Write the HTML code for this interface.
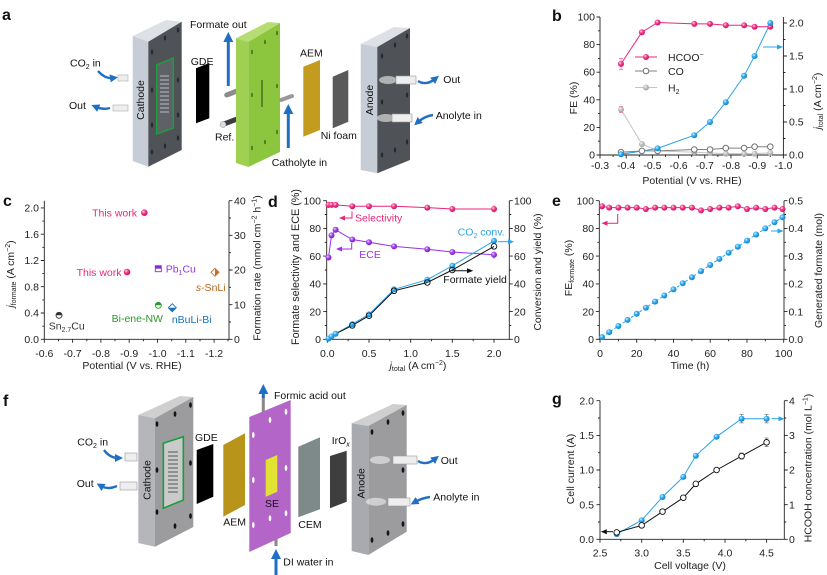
<!DOCTYPE html>
<html><head><meta charset="utf-8"><style>
html,body{margin:0;padding:0;background:#fff;}
svg{display:block;}
text{font-family:"Liberation Sans",Arial,sans-serif;}
</style></head><body>
<svg width="827" height="575" viewBox="0 0 827 575" xmlns="http://www.w3.org/2000/svg">
<defs>
<radialGradient id="bp" cx="0.38" cy="0.35" r="0.7"><stop offset="0" stop-color="#ffe0ee"/><stop offset="0.4" stop-color="#f0408a"/><stop offset="1" stop-color="#d0045f"/></radialGradient>
<radialGradient id="bb" cx="0.38" cy="0.35" r="0.7"><stop offset="0" stop-color="#e0f4ff"/><stop offset="0.4" stop-color="#35aef0"/><stop offset="1" stop-color="#0a7cc8"/></radialGradient>
<radialGradient id="bu" cx="0.38" cy="0.35" r="0.7"><stop offset="0" stop-color="#f0dcff"/><stop offset="0.4" stop-color="#a448f0"/><stop offset="1" stop-color="#7410d0"/></radialGradient>
<radialGradient id="bg" cx="0.38" cy="0.35" r="0.7"><stop offset="0" stop-color="#f6f6f6"/><stop offset="0.4" stop-color="#c4c4c4"/><stop offset="1" stop-color="#a0a0a0"/></radialGradient>
<marker id="ba" markerWidth="8" markerHeight="8" refX="3" refY="4" orient="auto" markerUnits="userSpaceOnUse"><path d="M0,0 L8,4 L0,8 Z" fill="#1f6fc5"/></marker>
<marker id="bv" markerWidth="10" markerHeight="10" refX="2" refY="5" orient="auto" markerUnits="userSpaceOnUse"><path d="M0,0 L10,5 L0,10 Z" fill="#1f6fc5"/></marker>
</defs>
<rect width="827" height="575" fill="#fff"/>

<!-- ================= PANEL A ================= -->
<text x="2" y="20" font-size="16" font-weight="bold" fill="#111">a</text>
<!-- cathode -->
<polygon points="132.7,36 166,20 181.7,21.7 148.3,41.7" fill="#dde1e6"/>
<polygon points="132.7,36 148.3,41.7 148.3,166.7 132.7,161" fill="#c6cdd7"/>
<polygon points="148.3,41.7 181.7,21.7 181.7,150 148.3,166.7" fill="#4f5257"/>
<polygon points="156.7,65 173.3,58 173.3,128 156.7,134" fill="#5e6166" stroke="#1f9c3f" stroke-width="1.5"/>
<g stroke="#b8bcc2" stroke-width="1"><path d="M160,76h9M160,80h9M160,84h9M160,88h9M160,92h9M160,96h9M160,100h9M160,104h9M160,108h9M160,112h9"/></g>
<g fill="#262a33"><ellipse cx="152" cy="52" rx="1.2" ry="2.5"/><ellipse cx="165" cy="38" rx="1.2" ry="2.5"/><ellipse cx="178" cy="30" rx="1.2" ry="2.5"/><ellipse cx="152" cy="90" rx="1.2" ry="2.5"/><ellipse cx="178" cy="80" rx="1.2" ry="2.5"/><ellipse cx="152" cy="125" rx="1.2" ry="2.5"/><ellipse cx="178" cy="115" rx="1.2" ry="2.5"/><ellipse cx="152" cy="152" rx="1.2" ry="2.5"/><ellipse cx="165" cy="146" rx="1.2" ry="2.5"/><ellipse cx="178" cy="138" rx="1.2" ry="2.5"/></g>
<text transform="translate(144,100) rotate(-90)" text-anchor="middle" font-size="10.5" fill="#111">Cathode</text>
<rect x="118" y="75" width="10" height="6" fill="#eee" stroke="#aaa" stroke-width="0.6"/>
<rect x="113" y="105" width="15" height="6" fill="#eee" stroke="#aaa" stroke-width="0.6"/>
<text x="70" y="66.5" font-size="10.5" fill="#111">CO<tspan font-size="7" dy="2.5">2</tspan><tspan dy="-2.5"> in</tspan></text>
<path d="M98,71 Q105,79 113,78" stroke="#1f6fc5" stroke-width="2.4" fill="none" marker-end="url(#ba)"/>
<text x="69" y="109" font-size="10.5" fill="#111">Out</text>
<path d="M110,108 Q103,110 96,107" stroke="#1f6fc5" stroke-width="2.4" fill="none" marker-end="url(#ba)"/>
<!-- GDE -->
<polygon points="196,68.3 209.3,63 209.3,118.3 196,123.3" fill="#000"/>
<text x="190.7" y="65" font-size="10.5" fill="#111">GDE</text>
<!-- green plate -->
<line x1="226.7" y1="95" x2="245" y2="88" stroke="#8a8d90" stroke-width="5" stroke-linecap="round"/>
<line x1="224" y1="124" x2="245" y2="116" stroke="#3c3d40" stroke-width="5" stroke-linecap="round"/>
<circle cx="223" cy="124.5" r="3" fill="#ddd" stroke="#888" stroke-width="0.5"/>
<polygon points="236,38.3 268,22 280,23 248.3,42" fill="#b6dc74"/>
<polygon points="236,38.3 248.3,42 248.3,167 236,163" fill="#9fd052"/>
<polygon points="248.3,42 280,23 280,152 248.3,167" fill="#8cc63f"/>
<g fill="#4c7a20"><ellipse cx="252" cy="52" rx="1" ry="2.3"/><ellipse cx="265" cy="42" rx="1" ry="2.3"/><ellipse cx="277" cy="33" rx="1" ry="2.3"/><ellipse cx="252" cy="95" rx="1" ry="2.3"/><ellipse cx="277" cy="86" rx="1" ry="2.3"/><ellipse cx="252" cy="148" rx="1" ry="2.3"/><ellipse cx="265" cy="142" rx="1" ry="2.3"/><ellipse cx="277" cy="132" rx="1" ry="2.3"/></g>
<line x1="262" y1="80" x2="262" y2="107" stroke="#3d6a1a" stroke-width="1.4"/>
<line x1="281" y1="100" x2="292" y2="96" stroke="#999" stroke-width="4" stroke-linecap="round"/>
<line x1="228.3" y1="86" x2="228.3" y2="40" stroke="#1f6fc5" stroke-width="3" marker-end="url(#bv)"/>
<text x="190" y="28" font-size="10.5" fill="#111">Formate out</text>
<text x="215" y="140.5" font-size="10.5" fill="#111">Ref.</text>
<line x1="288.3" y1="148" x2="288.3" y2="112" stroke="#1f6fc5" stroke-width="3" marker-end="url(#bv)"/>
<text x="271.7" y="166" font-size="10.5" fill="#111">Catholyte in</text>
<!-- AEM, Ni foam -->
<polygon points="303.3,66.7 320,60 320,130 303.3,136.7" fill="#c29b1f"/>
<text x="300" y="56.5" font-size="10.5" fill="#111">AEM</text>
<polygon points="332.7,76.7 348.3,70 348.3,121.7 332.7,128.3" fill="#5a5a5a"/>
<text x="320.7" y="139" font-size="10.5" fill="#111">Ni foam</text>
<!-- anode -->
<polygon points="360.7,44 394,27 410,28 377.3,47" fill="#dde1e6"/>
<polygon points="360.7,44 377.3,47 377.3,173.3 360.7,170" fill="#c6cdd7"/>
<polygon points="377.3,47 410,28 410,160 377.3,173.3" fill="#4f5257"/>
<g fill="#262a33"><ellipse cx="382" cy="56" rx="1.2" ry="2.5"/><ellipse cx="395" cy="45" rx="1.2" ry="2.5"/><ellipse cx="407" cy="36" rx="1.2" ry="2.5"/><ellipse cx="407" cy="95" rx="1.2" ry="2.5"/><ellipse cx="382" cy="102" rx="1.2" ry="2.5"/><ellipse cx="382" cy="155" rx="1.2" ry="2.5"/><ellipse cx="395" cy="150" rx="1.2" ry="2.5"/><ellipse cx="407" cy="142" rx="1.2" ry="2.5"/></g>
<ellipse cx="388" cy="80" rx="9" ry="4" fill="#fff" opacity="0.55"/>
<ellipse cx="386" cy="118" rx="9" ry="4" fill="#fff" opacity="0.55"/>
<rect x="396" y="76" width="20" height="8" fill="#eee" stroke="#999" stroke-width="0.6"/>
<rect x="392" y="114" width="20" height="8" fill="#eee" stroke="#999" stroke-width="0.6"/>
<text transform="translate(373,100) rotate(-90)" text-anchor="middle" font-size="10.5" fill="#111">Anode</text>
<path d="M418,81 Q426,86 435,79" stroke="#1f6fc5" stroke-width="2.4" fill="none" marker-end="url(#ba)"/>
<text x="443.3" y="83" font-size="10.5" fill="#111">Out</text>
<path d="M433,115 Q425,116 418,122" stroke="#1f6fc5" stroke-width="2.4" fill="none" marker-end="url(#ba)"/>
<text x="435.7" y="119" font-size="10.5" fill="#111">Anolyte in</text>

<!-- ================= PANEL B ================= -->
<text x="552" y="21" font-size="16" font-weight="bold" fill="#111">b</text>
<g stroke="#222" stroke-width="0.9" fill="none">
<path d="M600,17 V155 H783.4 V17"/>
<path d="M600,155h-3.5M600,127.4h-3.5M600,99.8h-3.5M600,72.2h-3.5M600,44.6h-3.5M600,17h-3.5"/>
<path d="M600,141.2h-2M600,113.6h-2M600,86h-2M600,58.4h-2M600,30.8h-2"/>
<path d="M600,155v3.5M626.2,155v3.5M652.4,155v3.5M678.6,155v3.5M704.8,155v3.5M731,155v3.5M757.2,155v3.5M783.4,155v3.5"/>
<path d="M613.1,155v2M639.3,155v2M665.5,155v2M691.7,155v2M717.9,155v2M744.1,155v2M770.3,155v2"/>
<path d="M783.4,155h3.5M783.4,122h3.5M783.4,89h3.5M783.4,56h3.5M783.4,23h3.5"/>
<path d="M783.4,138.5h2M783.4,105.5h2M783.4,72.5h2M783.4,39.5h2"/>
</g>
<g font-size="10.5" fill="#222" text-anchor="end">
<text x="595" y="158.5">0</text><text x="595" y="130.9">20</text><text x="595" y="103.3">40</text><text x="595" y="75.7">60</text><text x="595" y="48.1">80</text><text x="595" y="20.5">100</text>
</g>
<g font-size="10.5" fill="#222" text-anchor="middle">
<text x="600" y="169">-0.3</text><text x="626.2" y="169">-0.4</text><text x="652.4" y="169">-0.5</text><text x="678.6" y="169">-0.6</text><text x="704.8" y="169">-0.7</text><text x="731" y="169">-0.8</text><text x="757.2" y="169">-0.9</text><text x="783.4" y="169">-1.0</text>
</g>
<g font-size="10.5" fill="#222">
<text x="789" y="158.5">0.0</text><text x="789" y="125.5">0.5</text><text x="789" y="92.5">1.0</text><text x="789" y="59.5">1.5</text><text x="789" y="26.5">2.0</text>
</g>
<text transform="translate(577,98) rotate(-90)" text-anchor="middle" font-size="10.5" fill="#222">FE (%)</text>
<text transform="translate(821,101) rotate(-90)" text-anchor="middle" font-size="10.5" fill="#222"><tspan font-style="italic">j</tspan><tspan font-size="7" dy="2">total</tspan><tspan dy="-2"> (A cm</tspan><tspan font-size="7" dy="-4">−2</tspan><tspan dy="4">)</tspan></text>
<text x="692" y="184" text-anchor="middle" font-size="10.5" fill="#222">Potential (V vs. RHE)</text>
<!-- series b -->
<polyline points="621,109.5 641.9,144 657.6,150.9 694.3,152.2 710,152.9 725.8,153.6 744.1,153.6 754.6,153.6 770.3,152.9" fill="none" stroke="#c4c4c4" stroke-width="1"/>
<polyline points="621,152.2 641.9,150.9 657.6,150.9 694.3,149.5 710,149.5 725.8,148.1 744.1,148.1 754.6,146.7 770.3,146.7" fill="none" stroke="#808080" stroke-width="1"/>
<polyline points="621,154.3 641.9,151 657.6,148.4 694.3,135.2 710,122 725.8,102.2 744.1,75.8 754.6,56 770.3,23" fill="none" stroke="#2ba3e8" stroke-width="1"/>
<polyline points="621,63.9 641.9,32.2 657.6,22.5 694.3,23.9 710,23.9 725.8,25.3 744.1,25.3 754.6,26.7 770.3,26.7" fill="none" stroke="#e8267a" stroke-width="1"/>
<path d="M621,58.4v11M619,58.4h4M619,69.4h4M621,106.5v6M619,106.5h4M619,112.5h4" stroke="#e8267a" stroke-width="0.7" opacity="0.7"/>
<g fill="url(#bg)"><circle cx="621" cy="109.5" r="3"/><circle cx="641.9" cy="144" r="3"/><circle cx="657.6" cy="150.9" r="3"/><circle cx="694.3" cy="152.2" r="3"/><circle cx="710" cy="152.9" r="3"/><circle cx="725.8" cy="153.6" r="3"/><circle cx="744.1" cy="153.6" r="3"/><circle cx="754.6" cy="153.6" r="3"/><circle cx="770.3" cy="152.9" r="3"/></g>
<g fill="#fff" stroke="#707070" stroke-width="1"><circle cx="621" cy="152.2" r="2.8"/><circle cx="641.9" cy="150.9" r="2.8"/><circle cx="657.6" cy="150.9" r="2.8"/><circle cx="694.3" cy="149.5" r="2.8"/><circle cx="710" cy="149.5" r="2.8"/><circle cx="725.8" cy="148.1" r="2.8"/><circle cx="744.1" cy="148.1" r="2.8"/><circle cx="754.6" cy="146.7" r="2.8"/><circle cx="770.3" cy="146.7" r="2.8"/></g>
<g fill="url(#bb)"><circle cx="621" cy="154.3" r="3"/><circle cx="657.6" cy="148.4" r="3"/><circle cx="694.3" cy="135.2" r="3"/><circle cx="710" cy="122" r="3"/><circle cx="725.8" cy="102.2" r="3"/><circle cx="744.1" cy="75.8" r="3"/><circle cx="754.6" cy="56" r="3"/></g>
<g fill="url(#bp)"><circle cx="621" cy="63.9" r="3"/><circle cx="641.9" cy="32.2" r="3"/><circle cx="657.6" cy="22.5" r="3"/><circle cx="694.3" cy="23.9" r="3"/><circle cx="710" cy="23.9" r="3"/><circle cx="725.8" cy="25.3" r="3"/><circle cx="744.1" cy="25.3" r="3"/><circle cx="754.6" cy="26.7" r="3"/><circle cx="770.3" cy="26.7" r="3"/></g>
<circle cx="770.3" cy="23" r="3" fill="url(#bb)"/>
<!-- legend b -->
<line x1="635" y1="57" x2="657" y2="57" stroke="#e8267a" stroke-width="1"/><circle cx="646" cy="57" r="3" fill="url(#bp)"/>
<text x="668" y="61" font-size="10.5" fill="#222">HCOO<tspan font-size="7" dy="-4">−</tspan></text>
<line x1="635" y1="71" x2="657" y2="71" stroke="#808080" stroke-width="1"/><circle cx="646" cy="71" r="2.8" fill="#fff" stroke="#707070"/>
<text x="668" y="75" font-size="10.5" fill="#222">CO</text>
<line x1="635" y1="87.5" x2="657" y2="87.5" stroke="#c4c4c4" stroke-width="1"/><circle cx="646" cy="87.5" r="3" fill="url(#bg)"/>
<text x="668" y="91.5" font-size="10.5" fill="#222">H<tspan font-size="7" dy="2.5">2</tspan></text>
<line x1="763" y1="47" x2="778" y2="47" stroke="#2ba3e8" stroke-width="1"/><polygon points="783,47 777,44.5 777,49.5" fill="#2ba3e8"/>

<!-- ================= PANEL C ================= -->
<text x="3" y="206" font-size="16" font-weight="bold" fill="#111">c</text>
<g stroke="#222" stroke-width="0.9" fill="none">
<path d="M44.3,200.7 V339.3 H229 V200.7"/>
<path d="M44.3,339.3h-3.5M44.3,313h-3.5M44.3,286.7h-3.5M44.3,260.5h-3.5M44.3,234.2h-3.5M44.3,207.9h-3.5"/>
<path d="M44.3,326.2h-2M44.3,299.9h-2M44.3,273.6h-2M44.3,247.3h-2M44.3,221.1h-2"/>
<path d="M44.3,339.3v3.5M72.6,339.3v3.5M100.9,339.3v3.5M129.2,339.3v3.5M157.5,339.3v3.5M185.8,339.3v3.5M214.1,339.3v3.5"/>
<path d="M58.5,339.3v2M86.8,339.3v2M115,339.3v2M143.4,339.3v2M171.7,339.3v2M200,339.3v2M228,339.3v2"/>
<path d="M229,339.3h3.5M229,304.65h3.5M229,270h3.5M229,235.35h3.5M229,200.7h3.5"/>
<path d="M229,322h2M229,287.3h2M229,252.7h2M229,218h2"/>
</g>
<g font-size="10.5" fill="#222" text-anchor="end">
<text x="39" y="343">0.0</text><text x="39" y="316.7">0.4</text><text x="39" y="290.4">0.8</text><text x="39" y="264.2">1.2</text><text x="39" y="237.9">1.6</text><text x="39" y="211.6">2.0</text>
</g>
<g font-size="10.5" fill="#222" text-anchor="middle">
<text x="44.3" y="357">-0.6</text><text x="72.6" y="357">-0.7</text><text x="100.9" y="357">-0.8</text><text x="129.2" y="357">-0.9</text><text x="157.5" y="357">-1.0</text><text x="185.8" y="357">-1.1</text><text x="214.1" y="357">-1.2</text>
</g>
<g font-size="10.5" fill="#222">
<text x="234" y="343">0</text><text x="234" y="308.3">10</text><text x="234" y="273.7">20</text><text x="234" y="239">30</text><text x="234" y="204.4">40</text>
</g>
<text transform="translate(14,274) rotate(-90)" text-anchor="middle" font-size="10.5" fill="#222"><tspan font-style="italic">j</tspan><tspan font-size="7" dy="2">formate</tspan><tspan dy="-2"> (A cm</tspan><tspan font-size="7" dy="-4">−2</tspan><tspan dy="4">)</tspan></text>
<text transform="translate(260.5,268) rotate(-90)" text-anchor="middle" font-size="10.5" fill="#222">Formation rate (mmol cm<tspan font-size="7" dy="-4">−2</tspan><tspan dy="4"> h</tspan><tspan font-size="7" dy="-4">−1</tspan><tspan dy="4">)</tspan></text>
<text x="132" y="369" text-anchor="middle" font-size="10.5" fill="#222">Potential (V vs. RHE)</text>
<circle cx="144.3" cy="212.7" r="3.3" fill="url(#bp)"/>
<circle cx="127" cy="272" r="3.3" fill="url(#bp)"/>
<text x="137" y="216.5" text-anchor="end" font-size="10.5" fill="#e8267a">This work</text>
<text x="121.5" y="276" text-anchor="end" font-size="10.5" fill="#e8267a">This work</text>
<rect x="155.3" y="265.7" width="6" height="6" fill="#fff" stroke="#8a2be2" stroke-width="0.9"/><rect x="155.3" y="265.7" width="6" height="3" fill="#8a2be2"/>
<text x="165.7" y="272.5" font-size="10.5" fill="#9b30e8">Pb<tspan font-size="7" dy="2.5">1</tspan><tspan dy="-2.5">Cu</tspan></text>
<polygon points="215,268.3 219,272.3 215,276.3 211,272.3" fill="#fff" stroke="#c0702a" stroke-width="0.9"/><polygon points="215,268.3 219,272.3 215,276.3" fill="#c0702a"/>
<text x="210.7" y="291" text-anchor="middle" font-size="10.5" fill="#b8651a"><tspan font-style="italic">s</tspan>-SnLi</text>
<circle cx="158.3" cy="305.3" r="3" fill="#fff" stroke="#2a9a2a" stroke-width="0.9"/><path d="M155.3,305.3 A3,3 0 0 1 161.3,305.3 Z" fill="#2a9a2a"/>
<text x="137.3" y="322" text-anchor="middle" font-size="10.5" fill="#2a9a2a">Bi-ene-NW</text>
<polygon points="172.3,303.7 176.3,307.7 172.3,311.7 168.3,307.7" fill="#fff" stroke="#1a6fc0" stroke-width="0.9"/><polygon points="168.3,307.7 176.3,307.7 172.3,311.7" fill="#1a6fc0"/>
<text x="191.7" y="323" text-anchor="middle" font-size="10.5" fill="#1a6fc0">nBuLi-Bi</text>
<circle cx="59" cy="315.3" r="3" fill="#fff" stroke="#333" stroke-width="0.9"/><path d="M56,315.3 A3,3 0 0 1 62,315.3 Z" fill="#333"/>
<text x="66.7" y="329.5" text-anchor="middle" font-size="10.5" fill="#333">Sn<tspan font-size="7" dy="2.5">2.7</tspan><tspan dy="-2.5">Cu</tspan></text>

<!-- ================= PANEL D ================= -->
<text x="268" y="207" font-size="16" font-weight="bold" fill="#111">d</text>
<g stroke="#222" stroke-width="0.9" fill="none">
<path d="M326.7,200.7 V339.3 H509.3 V200.7"/>
<path d="M326.7,339.3h-3.5M326.7,311.6h-3.5M326.7,283.9h-3.5M326.7,256.1h-3.5M326.7,228.4h-3.5M326.7,200.7h-3.5"/>
<path d="M326.7,325.4h-2M326.7,297.7h-2M326.7,270h-2M326.7,242.3h-2M326.7,214.5h-2"/>
<path d="M327.3,339.3v3.5M369,339.3v3.5M410.7,339.3v3.5M452.3,339.3v3.5M494,339.3v3.5"/>
<path d="M348.1,339.3v2M389.8,339.3v2M431.5,339.3v2M473.2,339.3v2"/>
<path d="M509.3,339.3h3.5M509.3,311.6h3.5M509.3,283.9h3.5M509.3,256.1h3.5M509.3,228.4h3.5M509.3,200.7h3.5"/>
<path d="M509.3,325.4h2M509.3,297.7h2M509.3,270h2M509.3,242.3h2M509.3,214.5h2"/>
</g>
<g font-size="10.5" fill="#222" text-anchor="end">
<text x="321" y="343">0</text><text x="321" y="315.3">20</text><text x="321" y="287.6">40</text><text x="321" y="259.8">60</text><text x="321" y="232.1">80</text><text x="321" y="204.4">100</text>
</g>
<g font-size="10.5" fill="#222" text-anchor="middle">
<text x="327.3" y="357">0.0</text><text x="369" y="357">0.5</text><text x="410.7" y="357">1.0</text><text x="452.3" y="357">1.5</text><text x="494" y="357">2.0</text>
</g>
<g font-size="10.5" fill="#222">
<text x="514" y="343">0</text><text x="514" y="315.3">20</text><text x="514" y="287.6">40</text><text x="514" y="259.8">60</text><text x="514" y="232.1">80</text><text x="514" y="204.4">100</text>
</g>
<text transform="translate(299,267) rotate(-90)" text-anchor="middle" font-size="10.8" fill="#222">Formate selectivity and ECE (%)</text>
<text transform="translate(541,272) rotate(-90)" text-anchor="middle" font-size="10.5" fill="#222">Conversion and yield (%)</text>
<text x="418" y="369" text-anchor="middle" font-size="10.5" fill="#222"><tspan font-style="italic">j</tspan><tspan font-size="7" dy="2">total</tspan><tspan dy="-2"> (A cm</tspan><tspan font-size="7" dy="-4">−2</tspan><tspan dy="4">)</tspan></text>
<polyline points="328.5,204.9 331.5,204.9 335.6,204.9 352.3,206.2 369,206.2 394,206.2 427.3,207.6 452.3,209 494,209" fill="none" stroke="#e8267a" stroke-width="1"/>
<polyline points="328.5,257.5 331.5,235.4 335.6,229.8 352.3,239.5 369,242.3 394,246.4 427.3,249.2 452.3,252 494,254.8" fill="none" stroke="#9b30e8" stroke-width="1"/>
<polyline points="328.5,338.6 331.5,336.5 335.6,333.8 352.3,324.1 369,314.4 394,289.4 427.3,279.7 452.3,265.8 494,240.9" fill="none" stroke="#2ba3e8" stroke-width="1"/>
<polyline points="328.5,339.3 331.5,336.5 335.6,333.8 352.3,325.4 369,315.7 394,290.8 427.3,282.5 452.3,270 494,246.4" fill="none" stroke="#111" stroke-width="1"/>
<path d="M494,205v8M494,251v8M452.3,249v6" stroke="#999" stroke-width="0.7"/>
<g fill="url(#bp)"><circle cx="328.5" cy="204.9" r="3"/><circle cx="331.5" cy="204.9" r="3"/><circle cx="335.6" cy="204.9" r="3"/><circle cx="352.3" cy="206.2" r="3"/><circle cx="369" cy="206.2" r="3"/><circle cx="394" cy="206.2" r="3"/><circle cx="427.3" cy="207.6" r="3"/><circle cx="452.3" cy="209" r="3"/><circle cx="494" cy="209" r="3"/></g>
<g fill="url(#bu)"><circle cx="328.5" cy="257.5" r="3"/><circle cx="331.5" cy="235.4" r="3"/><circle cx="335.6" cy="229.8" r="3"/><circle cx="352.3" cy="239.5" r="3"/><circle cx="369" cy="242.3" r="3"/><circle cx="394" cy="246.4" r="3"/><circle cx="427.3" cy="249.2" r="3"/><circle cx="452.3" cy="252" r="3"/><circle cx="494" cy="254.8" r="3"/></g>
<g fill="url(#bb)"><circle cx="328.5" cy="338.6" r="3"/><circle cx="331.5" cy="336.5" r="3"/><circle cx="335.6" cy="333.8" r="3"/><circle cx="352.3" cy="324.1" r="3"/><circle cx="369" cy="314.4" r="3"/><circle cx="394" cy="289.4" r="3"/><circle cx="427.3" cy="279.7" r="3"/><circle cx="452.3" cy="265.8" r="3"/><circle cx="494" cy="240.9" r="3"/></g>
<g fill="none" stroke="#111" stroke-width="0.9"><circle cx="352.3" cy="325.4" r="2.8"/><circle cx="369" cy="315.7" r="2.8"/><circle cx="394" cy="290.8" r="2.8"/><circle cx="427.3" cy="282.5" r="2.8"/><circle cx="452.3" cy="270" r="2.8"/><circle cx="494" cy="246.4" r="2.8"/></g>
<text x="355" y="221.5" font-size="10.5" fill="#e8267a">Selectivity</text>
<path d="M352,211.5 V218 H344" fill="none" stroke="#e8267a" stroke-width="1"/><polygon points="339,218 345,215.5 345,220.5" fill="#e8267a"/>
<text x="359.3" y="258" font-size="10.5" fill="#9b30e8">ECE</text>
<path d="M351.7,243 V249 H341" fill="none" stroke="#9b30e8" stroke-width="1"/><polygon points="336,249 342,246.5 342,251.5" fill="#9b30e8"/>
<text x="457.7" y="235.5" font-size="10.5" fill="#2ba3e8">CO<tspan font-size="7" dy="2.5">2</tspan><tspan dy="-2.5"> conv.</tspan></text>
<line x1="498" y1="241.7" x2="509" y2="241.7" stroke="#2ba3e8" stroke-width="1"/><polygon points="514,241.7 508,239.2 508,244.2" fill="#2ba3e8"/>
<text x="443.3" y="283" font-size="10.5" fill="#111">Formate yield</text>
<line x1="451.7" y1="270.7" x2="468" y2="270.7" stroke="#111" stroke-width="1"/><polygon points="473.3,270.7 467,268.2 467,273.2" fill="#111"/>

<!-- ================= PANEL E ================= -->
<text x="552" y="206" font-size="16" font-weight="bold" fill="#111">e</text>
<g stroke="#222" stroke-width="0.9" fill="none">
<path d="M599.3,200.7 V339.3 H784 V200.7"/>
<path d="M599.3,339.3h-3.5M599.3,311.6h-3.5M599.3,283.9h-3.5M599.3,256.1h-3.5M599.3,228.4h-3.5M599.3,200.7h-3.5"/>
<path d="M599.3,325.4h-2M599.3,297.7h-2M599.3,270h-2M599.3,242.3h-2M599.3,214.5h-2"/>
<path d="M600,339.3v3.5M636.7,339.3v3.5M673.5,339.3v3.5M710.2,339.3v3.5M747,339.3v3.5M783.7,339.3v3.5"/>
<path d="M618.4,339.3v2M655.1,339.3v2M691.9,339.3v2M728.6,339.3v2M765.3,339.3v2"/>
<path d="M784,339.3h3.5M784,311.6h3.5M784,283.9h3.5M784,256.1h3.5M784,228.4h3.5M784,200.7h3.5"/>
<path d="M784,325.4h2M784,297.7h2M784,270h2M784,242.3h2M784,214.5h2"/>
</g>
<g font-size="10.5" fill="#222" text-anchor="end">
<text x="594" y="343">0</text><text x="594" y="315.3">20</text><text x="594" y="287.6">40</text><text x="594" y="259.8">60</text><text x="594" y="232.1">80</text><text x="594" y="204.4">100</text>
</g>
<g font-size="10.5" fill="#222" text-anchor="middle">
<text x="600" y="357">0</text><text x="636.7" y="357">20</text><text x="673.5" y="357">40</text><text x="710.2" y="357">60</text><text x="747" y="357">80</text><text x="783.7" y="357">100</text>
</g>
<g font-size="10.5" fill="#222">
<text x="788.5" y="343">0.0</text><text x="788.5" y="315.3">0.1</text><text x="788.5" y="287.6">0.2</text><text x="788.5" y="259.8">0.3</text><text x="788.5" y="232.1">0.4</text><text x="788.5" y="204.4">0.5</text>
</g>
<text transform="translate(572,268) rotate(-90)" text-anchor="middle" font-size="10.5" fill="#222">FE<tspan font-size="7" dy="2">formate</tspan><tspan dy="-2"> (%)</tspan></text>
<text transform="translate(822,270.5) rotate(-90)" text-anchor="middle" font-size="10.5" fill="#222">Generated formate (mol)</text>
<text x="690" y="369" text-anchor="middle" font-size="10.5" fill="#222">Time (h)</text>
<polyline points="602,206.2 609.2,207.6 618.4,207.6 627.6,207.6 636.7,207.6 645.9,209 655.1,207.6 664.3,207.6 673.5,207.6 682.7,207.6 691.9,207.6 701,210.4 710.2,209 719.4,207.6 728.6,207.6 737.8,206.2 747,209 756.1,207.6 765.3,209 774.5,207.6 782.5,209" fill="none" stroke="#e8267a" stroke-width="1"/>
<polyline points="602,337.1 609.2,332.1 618.4,326 627.6,319.9 636.7,313.8 645.9,307.7 655.1,301.6 664.3,295.5 673.5,289.4 682.7,283.3 691.9,277.2 701,271.1 710.2,265 719.4,258.9 728.6,252.8 737.8,246.7 747,240.6 756.1,234.5 765.3,228.4 774.5,222.3 782.5,217.3" fill="none" stroke="#2ba3e8" stroke-width="1" stroke-dasharray="3,2"/>
<g fill="url(#bp)"><circle cx="602" cy="206.2" r="3"/><circle cx="609.2" cy="207.6" r="3"/><circle cx="618.4" cy="207.6" r="3"/><circle cx="627.6" cy="207.6" r="3"/><circle cx="636.7" cy="207.6" r="3"/><circle cx="645.9" cy="209" r="3"/><circle cx="655.1" cy="207.6" r="3"/><circle cx="664.3" cy="207.6" r="3"/><circle cx="673.5" cy="207.6" r="3"/><circle cx="682.7" cy="207.6" r="3"/><circle cx="691.9" cy="207.6" r="3"/><circle cx="701" cy="210.4" r="3"/><circle cx="710.2" cy="209" r="3"/><circle cx="719.4" cy="207.6" r="3"/><circle cx="728.6" cy="207.6" r="3"/><circle cx="737.8" cy="206.2" r="3"/><circle cx="747" cy="209" r="3"/><circle cx="756.1" cy="207.6" r="3"/><circle cx="765.3" cy="209" r="3"/><circle cx="774.5" cy="207.6" r="3"/><circle cx="782.5" cy="209" r="3"/></g>
<g fill="url(#bb)"><circle cx="602" cy="337.1" r="3"/><circle cx="609.2" cy="332.1" r="3"/><circle cx="618.4" cy="326" r="3"/><circle cx="627.6" cy="319.9" r="3"/><circle cx="636.7" cy="313.8" r="3"/><circle cx="645.9" cy="307.7" r="3"/><circle cx="655.1" cy="301.6" r="3"/><circle cx="664.3" cy="295.5" r="3"/><circle cx="673.5" cy="289.4" r="3"/><circle cx="682.7" cy="283.3" r="3"/><circle cx="691.9" cy="277.2" r="3"/><circle cx="701" cy="271.1" r="3"/><circle cx="710.2" cy="265" r="3"/><circle cx="719.4" cy="258.9" r="3"/><circle cx="728.6" cy="252.8" r="3"/><circle cx="737.8" cy="246.7" r="3"/><circle cx="747" cy="240.6" r="3"/><circle cx="756.1" cy="234.5" r="3"/><circle cx="765.3" cy="228.4" r="3"/><circle cx="774.5" cy="222.3" r="3"/><circle cx="782.5" cy="217.3" r="3"/></g>
<path d="M617.7,214 V223.3 H607" fill="none" stroke="#e8267a" stroke-width="1"/><polygon points="601.5,223.3 607.5,220.8 607.5,225.8" fill="#e8267a"/>
<line x1="771" y1="231" x2="778" y2="231" stroke="#2ba3e8" stroke-width="1"/><polygon points="783.5,231 777.5,228.5 777.5,233.5" fill="#2ba3e8"/>

<!-- ================= PANEL F ================= -->
<text x="3" y="406" font-size="16" font-weight="bold" fill="#111">f</text>
<!-- cathode f -->
<polygon points="138.3,415 180,396 193.3,397 155,418.3" fill="#cfcfcf"/>
<polygon points="138.3,415 155,418.3 155,546.7 138.3,543" fill="#b4b6ba"/>
<polygon points="155,418.3 193.3,397 193.3,527 155,546.7" fill="#9c9c9e"/>
<polygon points="163.3,443.3 183.3,436.7 183.3,500 163.3,508.3" fill="#cacaca" stroke="#1e9c3c" stroke-width="1.6"/>
<g stroke="#555" stroke-width="0.9"><path d="M168,452h10M168,456h10M168,460h10M168,464h10M168,468h10M168,472h10M168,476h10M168,480h10M168,484h10M168,488h10M168,492h10"/></g>
<g fill="#14161c"><ellipse cx="157" cy="424" rx="1.4" ry="2.8"/><ellipse cx="175" cy="414" rx="1.4" ry="2.8"/><ellipse cx="190.5" cy="405" rx="1.4" ry="2.8"/><ellipse cx="190.5" cy="463" rx="1.4" ry="2.8"/><ellipse cx="157" cy="470" rx="1.4" ry="2.8"/><ellipse cx="157" cy="512" rx="1.4" ry="2.8"/><ellipse cx="175" cy="526" rx="1.4" ry="2.8"/><ellipse cx="190.5" cy="516" rx="1.4" ry="2.8"/></g>
<text transform="translate(150.5,480) rotate(-90)" text-anchor="middle" font-size="10.5" fill="#111">Cathode</text>
<rect x="125" y="453" width="12" height="8" fill="#eee" stroke="#999" stroke-width="0.6"/>
<rect x="120" y="482" width="17" height="8" fill="#eee" stroke="#999" stroke-width="0.6"/>
<text x="77.3" y="445.5" font-size="10.5" fill="#111">CO<tspan font-size="7" dy="2.5">2</tspan><tspan dy="-2.5"> in</tspan></text>
<path d="M104,450 Q110,458 118,458" stroke="#1f6fc5" stroke-width="2.4" fill="none" marker-end="url(#ba)"/>
<text x="76.7" y="487" font-size="10.5" fill="#111">Out</text>
<path d="M117,486 Q108,490 101,486" stroke="#1f6fc5" stroke-width="2.4" fill="none" marker-end="url(#ba)"/>
<polygon points="196.7,450 213.3,444 213.3,496.7 196.7,504" fill="#000"/>
<text x="195" y="441" font-size="10.5" fill="#111">GDE</text>
<polygon points="223.3,445 245,433.3 245,505 223.3,516.7" fill="#b8941a"/>
<text x="223.3" y="525.5" font-size="10.5" fill="#111">AEM</text>
<!-- purple SE plate -->
<rect x="261.8" y="396" width="3" height="16" fill="#888"/>
<rect x="274.5" y="532" width="3" height="14" fill="#888"/>
<polygon points="249.3,417 290.7,400 290.7,533 249.3,552" fill="#b466c8"/>
<g fill="#fff"><ellipse cx="253.3" cy="435" rx="1.3" ry="3"/><ellipse cx="270" cy="420" rx="1.3" ry="3"/><ellipse cx="286" cy="411.7" rx="1.3" ry="3"/><ellipse cx="253.3" cy="480" rx="1.3" ry="3"/><ellipse cx="286" cy="468" rx="1.3" ry="3"/><ellipse cx="253.3" cy="525" rx="1.3" ry="3"/><ellipse cx="270" cy="518.3" rx="1.3" ry="3"/><ellipse cx="286" cy="513.3" rx="1.3" ry="3"/></g>
<polygon points="265.7,460 277.3,455 277.3,491.7 265.7,496.7" fill="#e2e234"/>
<text x="265" y="507" font-size="10.5" fill="#111">SE</text>
<line x1="263.3" y1="398" x2="263.3" y2="392" stroke="#1f6fc5" stroke-width="3" marker-end="url(#bv)"/>
<text x="274" y="399" font-size="10.5" fill="#111">Formic acid out</text>
<line x1="276" y1="575" x2="276" y2="557" stroke="#1f6fc5" stroke-width="3" marker-end="url(#bv)"/>
<text x="283.3" y="565.5" font-size="10.5" fill="#111">DI water in</text>
<polygon points="298.3,446.7 320,437.3 320,509.3 298.3,517.3" fill="#7e8a89"/>
<text x="298.3" y="528" font-size="10.5" fill="#111">CEM</text>
<polygon points="330,456 346.7,450.7 346.7,501.7 330,508.3" fill="#3e3e3e"/>
<text x="331.7" y="444" font-size="10.5" fill="#111">IrO<tspan font-size="7" dy="2.5" font-style="italic">x</tspan></text>
<!-- anode f -->
<polygon points="351.7,423.3 393,404 406.7,405 368.3,426" fill="#cfcfcf"/>
<polygon points="351.7,423.3 368.3,426 368.3,555 351.7,551" fill="#a8aab0"/>
<polygon points="368.3,426 406.7,405 406.7,531.7 368.3,555" fill="#9c9c9e"/>
<g fill="#14161c"><ellipse cx="372" cy="432" rx="1.4" ry="2.8"/><ellipse cx="388" cy="422" rx="1.4" ry="2.8"/><ellipse cx="403" cy="413" rx="1.4" ry="2.8"/><ellipse cx="403" cy="470" rx="1.4" ry="2.8"/><ellipse cx="372" cy="540" rx="1.4" ry="2.8"/><ellipse cx="388" cy="533" rx="1.4" ry="2.8"/><ellipse cx="403" cy="524" rx="1.4" ry="2.8"/></g>
<ellipse cx="380" cy="460" rx="10" ry="4" fill="#fff" opacity="0.5"/>
<ellipse cx="376" cy="501.7" rx="10" ry="4" fill="#fff" opacity="0.5"/>
<rect x="393" y="456" width="24" height="8" fill="#eee" stroke="#999" stroke-width="0.6"/>
<rect x="388" y="498" width="22" height="8" fill="#eee" stroke="#999" stroke-width="0.6"/>
<text transform="translate(364.5,483.3) rotate(-90)" text-anchor="middle" font-size="10.5" fill="#111">Anode</text>
<path d="M418,461 Q426,466 435,459" stroke="#1f6fc5" stroke-width="2.4" fill="none" marker-end="url(#ba)"/>
<text x="440.7" y="464" font-size="10.5" fill="#111">Out</text>
<path d="M430,497 Q422,498 415,502" stroke="#1f6fc5" stroke-width="2.4" fill="none" marker-end="url(#ba)"/>
<text x="433.3" y="500.5" font-size="10.5" fill="#111">Anolyte in</text>

<!-- ================= PANEL G ================= -->
<text x="552" y="404" font-size="16" font-weight="bold" fill="#111">g</text>
<g stroke="#222" stroke-width="0.9" fill="none">
<path d="M600,400.7 V539.3 H784.3 V400.7"/>
<path d="M600,539.3h-3.5M600,504.7h-3.5M600,470h-3.5M600,435.4h-3.5M600,400.7h-3.5"/>
<path d="M600,522h-2M600,487.3h-2M600,452.7h-2M600,418h-2"/>
<path d="M600,539.3v3.5M641.7,539.3v3.5M683.3,539.3v3.5M725,539.3v3.5M766.6,539.3v3.5"/>
<path d="M620.8,539.3v2M662.5,539.3v2M704.2,539.3v2M745.8,539.3v2"/>
<path d="M784.3,539.3h3.5M784.3,504.7h3.5M784.3,470h3.5M784.3,435.4h3.5M784.3,400.7h3.5"/>
<path d="M784.3,522h2M784.3,487.3h2M784.3,452.7h2M784.3,418h2"/>
</g>
<g font-size="10.5" fill="#222" text-anchor="end">
<text x="594" y="543">0.0</text><text x="594" y="508.4">0.5</text><text x="594" y="473.7">1.0</text><text x="594" y="439.1">1.5</text><text x="594" y="404.4">2.0</text>
</g>
<g font-size="10.5" fill="#222" text-anchor="middle">
<text x="600" y="556.5">2.5</text><text x="641.7" y="556.5">3.0</text><text x="683.3" y="556.5">3.5</text><text x="725" y="556.5">4.0</text><text x="766.6" y="556.5">4.5</text>
</g>
<g font-size="10.5" fill="#222">
<text x="789" y="543">0</text><text x="789" y="508.4">1</text><text x="789" y="473.7">2</text><text x="789" y="439.1">3</text><text x="789" y="404.4">4</text>
</g>
<text transform="translate(574,469) rotate(-90)" text-anchor="middle" font-size="10.5" fill="#222">Cell current (A)</text>
<text transform="translate(811.5,468) rotate(-90)" text-anchor="middle" font-size="10.5" fill="#222">HCOOH concentration (mol L<tspan font-size="7" dy="-4">−1</tspan><tspan dy="4">)</tspan></text>
<text x="690" y="569" text-anchor="middle" font-size="10.5" fill="#222">Cell voltage (V)</text>
<polyline points="616.7,534.1 641.7,520.2 662.5,497 683.3,476.9 695.8,455.8 716.6,436.7 741.6,418.7 766.6,418.7" fill="none" stroke="#2ba3e8" stroke-width="1"/>
<polyline points="616.7,532.4 641.7,525.4 662.5,511.6 683.3,497.7 695.8,483.9 716.6,470 741.6,456.1 766.6,442.3" fill="none" stroke="#111" stroke-width="1"/>
<path d="M741.6,414.5v8.4M739.6,414.5h4M739.6,422.9h4M766.6,414.5v8.4M764.6,414.5h4M764.6,422.9h4M766.6,438v8.6M764.6,438h4M764.6,446.6h4M741.6,453v6.2M739.6,453h4M739.6,459.2h4" stroke="#777" stroke-width="0.7"/>
<g fill="url(#bb)"><circle cx="616.7" cy="534.1" r="3"/><circle cx="641.7" cy="520.2" r="3"/><circle cx="662.5" cy="497" r="3"/><circle cx="683.3" cy="476.9" r="3"/><circle cx="695.8" cy="455.8" r="3"/><circle cx="716.6" cy="436.7" r="3"/><circle cx="741.6" cy="418.7" r="3"/><circle cx="766.6" cy="418.7" r="3"/></g>
<g fill="#fff" stroke="#111" stroke-width="0.9"><circle cx="616.7" cy="532.4" r="2.8"/><circle cx="641.7" cy="525.4" r="2.8"/><circle cx="662.5" cy="511.6" r="2.8"/><circle cx="683.3" cy="497.7" r="2.8"/><circle cx="695.8" cy="483.9" r="2.8"/><circle cx="716.6" cy="470" r="2.8"/><circle cx="741.6" cy="456.1" r="2.8"/><circle cx="766.6" cy="442.3" r="2.8"/></g>
<line x1="606" y1="531.7" x2="613" y2="531.7" stroke="#111" stroke-width="1"/><polygon points="600.8,531.7 606.8,529.2 606.8,534.2" fill="#111"/>
<line x1="771.5" y1="418.7" x2="779" y2="418.7" stroke="#2ba3e8" stroke-width="1"/><polygon points="784.5,418.7 778.5,416.2 778.5,421.2" fill="#2ba3e8"/>
</svg>
</body></html>
